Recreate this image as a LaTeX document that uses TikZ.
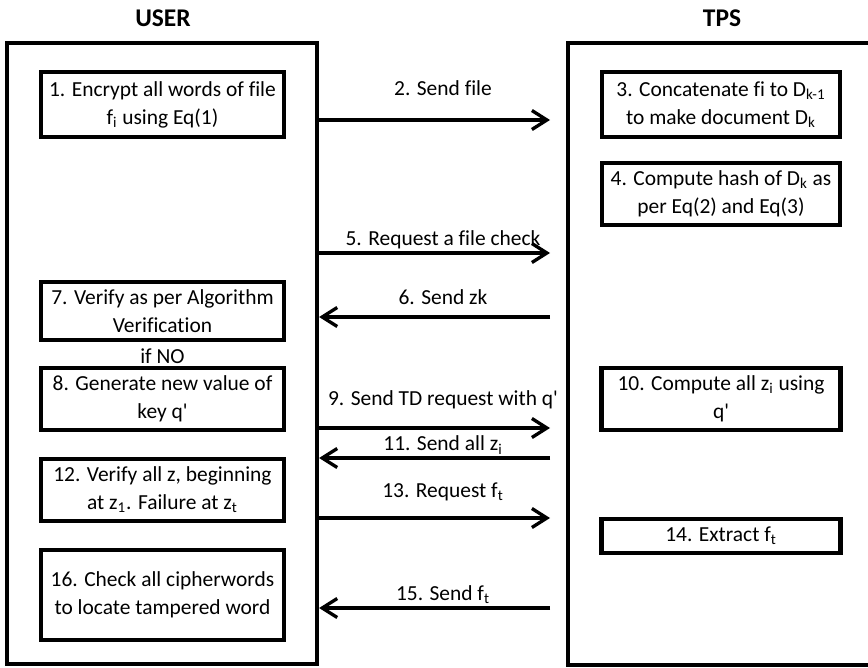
\documentclass[tikz,border=0pt]{standalone}
\usepackage{fontspec}
\setmainfont{Carlito}[Ligatures={TeXOff,NoCommon}]
\usetikzlibrary{positioning, arrows.meta}

\begin{document}
\begin{tikzpicture}[
  x=0.02cm, y=-0.02cm,
  every node/.style={sharp corners},
  lane/.style={
    rectangle, draw=black, line width=2.4pt, inner sep=0pt
  },
  lanetitle/.style={
    font=\fontsize{14.5}{17}\selectfont\bfseries, inner sep=0pt
  },
  stepbox/.style n args={2}{
    rectangle, draw=black, line width=2.3pt, fill=white,
    font=\fontsize{12.2}{15.9}\selectfont,
    minimum width=#1*0.02cm, minimum height=#2*0.02cm,
    align=center, inner sep=1pt
  },
  msglabel/.style={
    font=\fontsize{12.2}{15.9}\selectfont, inner sep=0pt
  },
  msg/.style={
    line width=2pt, -{Straight Barb[length=3mm, width=3.8mm, line width=1.9pt]}
  }
]

\clip (0,0) rectangle (868,668);

%% Lane x-positions
\def\xU{162.5}
\def\xT{721}
\def\xR{550}

%% === LANES ===
\node[lane, minimum width=310*0.02cm, minimum height=621*0.02cm] (user) at (162,353.5) {};
\node[lane, minimum width=320*0.02cm, minimum height=622*0.02cm] (tps) at (728,354) {};

\node[lanetitle] (usertitle) at (163,18) {USER};
\node[lanetitle] (tpstitle)  at (722,18) {TPS};

%% === USER STEPS ===
\node[stepbox={243}{65}] (s1)  at (\xU,104.5) {1. Encrypt all words of file\\f\textsubscript{i} using Eq(1)};
\node[stepbox={243}{58}] (s7)  at (\xU,311)   {7. Verify as per Algorithm\\Verification};
\node[msglabel]          (ifno) at (\xU,356)  {if NO};
\node[stepbox={243}{62}] (s8)  at (\xU,399)   {8. Generate new value of\\key q'};
\node[stepbox={243}{62}] (s12) at (\xU,490)   {12. Verify all z, beginning\\at z\textsubscript{1}. Failure at z\textsubscript{t}};
\node[stepbox={243}{90}] (s16) at (\xU,595)   {16. Check all cipherwords\\to locate tampered word};

%% === TPS STEPS ===
\node[stepbox={238}{65}] (s3)  at (\xT,104.5) {3. Concatenate fi to D\textsubscript{k-1}\\to make document D\textsubscript{k}};
\node[stepbox={238}{62}] (s4)  at (\xT,194)   {4. Compute hash of D\textsubscript{k} as\\per Eq(2) and Eq(3)};
\node[stepbox={239}{62}] (s10) at (\xT,399)   {10. Compute all z\textsubscript{i} using\\q'};
\node[stepbox={239}{34}] (s14) at (\xT,536)   {14. Extract f\textsubscript{t}};

%% === MESSAGE ENDS (short of the TPS lane) ===
\coordinate (m2)  at (\xR,120);
\coordinate (m5)  at (\xR,253);
\coordinate (m6)  at (\xR,317);
\coordinate (m9)  at (\xR,428);
\coordinate (m11) at (\xR,458);
\coordinate (m13) at (\xR,518);
\coordinate (m15) at (\xR,608);

%% === MESSAGES ===
\draw[msg] (user.east |- m2)  -- (m2);
\draw[msg] (user.east |- m5)  -- (m5);
\draw[msg] (m6)  -- (user.east |- m6);
\draw[msg] (user.east |- m9)  -- (m9);
\draw[msg] (m11) -- (user.east |- m11);
\draw[msg] (user.east |- m13) -- (m13);
\draw[msg] (m15) -- (user.east |- m15);

%% === MESSAGE LABELS ===
\node[msglabel] (l2)  at (443,88)  {2. Send file};
\node[msglabel] (l5)  at (443,240) {5. Request a file check};
\node[msglabel] (l6)  at (443,297) {6. Send zk};
\node[msglabel] (l9)  at (443,400) {9. Send TD request with q'};
\node[msglabel] (l11) at (443,445) {11. Send all z\textsubscript{i}};
\node[msglabel] (l13) at (443,492) {13. Request f\textsubscript{t}};
\node[msglabel] (l15) at (443,595) {15. Send f\textsubscript{t}};

\end{tikzpicture}
\end{document}
